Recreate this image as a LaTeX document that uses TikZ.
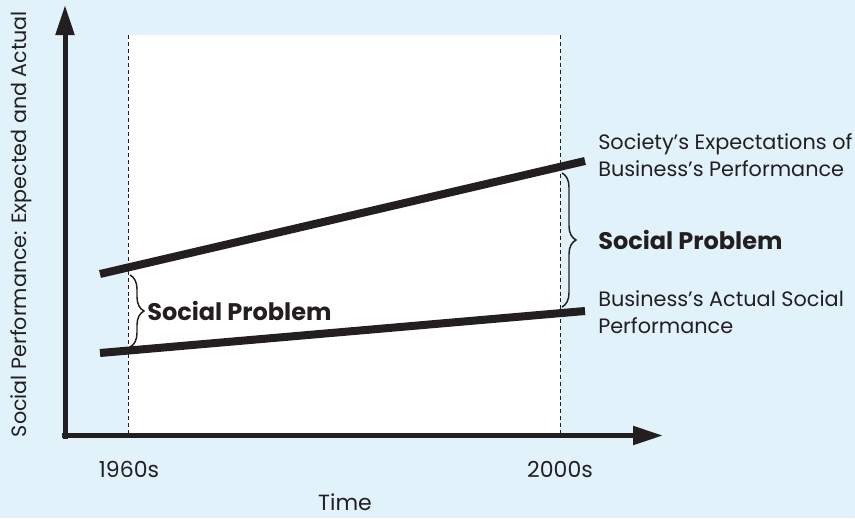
\documentclass[tikz,border=0pt]{standalone}
\usepackage{fontspec}
\setmainfont{Poppins}
\usepackage{xcolor}
\usetikzlibrary{arrows.meta, positioning, decorations.pathreplacing}
\definecolor{bgblue}{RGB}{225,242,251}
\definecolor{ink}{RGB}{35,31,32}
\tikzset{
  axis/.style={line width=3.75pt, ink, -{Triangle[length=22.5pt, width=13.5pt]}},
  trend/.style={line width=6pt, ink},
  marker/.style={ink, line width=0.6pt, dash pattern=on 3pt off 2.2pt},
  bracket/.style={ink, line width=1.1pt, decorate, decoration={brace, amplitude=10.5pt}},
  lbl/.style={text=ink, font=\fontsize{16.5}{20}\selectfont, inner sep=0pt},
  sidelbl/.style={text=ink, font=\fontsize{15.6}{20}\selectfont, inner sep=0pt, anchor=west, align=left},
  blbl/.style={text=ink, font=\fontsize{18}{21}\selectfont\bfseries, inner sep=0pt, anchor=west}
}
\begin{document}
\begin{tikzpicture}[x=0.75pt, y=-0.75pt]
        % Background and white period window
        \fill[bgblue] (0,0) rectangle (855,518);
        \useasboundingbox (0,0) rectangle (855,518);
        \fill[white] (128,35) rectangle (560,435.5);

        % Axes
        \coordinate (origin) at (65,435.5);
        \coordinate (ytip) at (65,5);
        \coordinate (xtip) at (663,435.5);
        \draw[axis] ([yshift=-2.5pt]origin) -- (ytip);
        \draw[axis] ([xshift=-1.9pt]origin) -- (xtip);

        % Dashed markers for the two periods
        \coordinate (early top) at (128,35);
        \coordinate (early bot) at (128,435.5);
        \coordinate (late top) at (560,35);
        \coordinate (late bot) at (560,435.5);
        \draw[marker] (early top) -- (early bot);
        \draw[marker] (late top) -- (late bot);

        % Expected and actual performance
        \coordinate (exp start) at (100,274);
        \coordinate (exp end) at (585,161);
        \coordinate (act start) at (100,353);
        \coordinate (act end) at (585,311);
        \draw[trend] (exp start) -- (exp end);
        \draw[trend] (act start) -- (act end);

        % Braces marking the gap
        \coordinate (gap1 top) at (130,275);
        \coordinate (gap1 bot) at (130,347);
        \coordinate (gap2 top) at (562,173);
        \coordinate (gap2 bot) at (562,307);
        \draw[bracket] (gap1 top) -- (gap1 bot);
        \draw[bracket] (gap2 top) -- (gap2 bot);

        % Labels
        \node[blbl] (gap1 text) at (147,311) {Social Problem};
        \node[blbl] (gap2 text) at (598,240) {Social Problem};
        \node[sidelbl] (exp text) at (598,155) {Society’s Expectations of\\Business’s Performance};
        \node[sidelbl] (act text) at (598,312) {Business’s Actual Social\\Performance};
        \node[lbl, anchor=base] (early) at (129,477) {1960s};
        \node[lbl, anchor=base] (late) at (560,477) {2000s};
        \node[lbl, anchor=base] (time) at (345,510) {Time};
        \node[lbl, rotate=90, font=\fontsize{15.5}{19}\selectfont] (ylabel) at (21,224) {Social Performance: Expected and Actual};
    \end{tikzpicture}
\end{document}
